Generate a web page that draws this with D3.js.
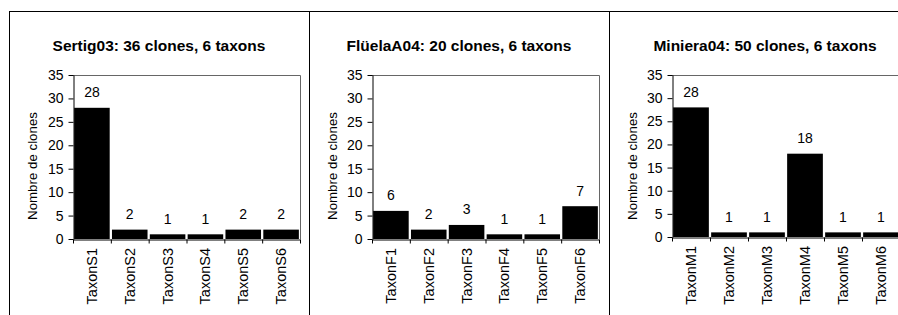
<!DOCTYPE html>
<html>
<head>
<meta charset="utf-8">
<script src="https://cdnjs.cloudflare.com/ajax/libs/d3/7.8.5/d3.min.js"></script>
<style>
  body { margin: 0; background: #fff; }
  svg text { font-family: "Liberation Sans", Arial, sans-serif; fill: #000; }
</style>
</head>
<body>
<script>
// data
const titles = ["Sertig03: 36 clones, 6 taxons", "FlüelaA04: 20 clones, 6 taxons", "Miniera04: 50 clones, 6 taxons"]
const taxaS = ["TaxonS1", "TaxonS2", "TaxonS3", "TaxonS4", "TaxonS5", "TaxonS6"]
const clonesS = [28, 2, 1, 1, 2, 2]
const taxaF = ["TaxonF1", "TaxonF2", "TaxonF3", "TaxonF4", "TaxonF5", "TaxonF6"]
const clonesF = [6, 2, 3, 1, 1, 7]
const taxaM = ["TaxonM1", "TaxonM2", "TaxonM3", "TaxonM4", "TaxonM5", "TaxonM6"]
const clonesM = [28, 1, 1, 18, 1, 1]
const yTicks = [0, 5, 10, 15, 20, 25, 30, 35]
const yLabel = "Nombre de clones"

// layout of each panel (frame + plot area)
const panels = [
    { frame: [9, 309], left: 73, right: 300, top: 75, bottom: 239, cats: taxaS, vals: clonesS },
    { frame: [309, 609], left: 372, right: 599, top: 75, bottom: 239, cats: taxaF, vals: clonesF },
    { frame: [609, 921], left: 672, right: 900, top: 75, bottom: 237, cats: taxaM, vals: clonesM }
];

var W = 898, H = 315;
var svg = d3.select("body").append("svg")
    .attr("width", W)
    .attr("height", H);

// outer frame
svg.append("line")
    .attr("x1", 9).attr("x2", W).attr("y1", 11.5).attr("y2", 11.5)
    .attr("stroke", "#000");
[9, 309, 609].forEach(function (fx) {
    svg.append("line")
        .attr("x1", fx + 0.5).attr("x2", fx + 0.5).attr("y1", 11).attr("y2", H)
        .attr("stroke", "#000");
});

panels.forEach(function (p, i) {
    var g = svg.append("g");

    var x = d3.scaleBand().domain(p.cats).range([p.left, p.right])
        .paddingInner(0.06).paddingOuter(0.03);
    var xEdges = d3.scaleLinear().domain([0, p.cats.length]).range([p.left, p.right]);
    var y = d3.scaleLinear().domain([0, 35]).range([p.bottom, p.top]);

    // title
    g.append("text")
        .attr("x", (p.frame[0] + p.frame[1]) / 2)
        .attr("y", 51)
        .attr("text-anchor", "middle")
        .style("font-size", "15.5px")
        .style("font-weight", "bold")
        .text(titles[i]);

    // plot area box (top & right)
    g.append("path")
        .attr("d", "M" + p.left + "," + (p.top + 0.5) + "H" + (p.right + 0.5) + "V" + p.bottom)
        .attr("fill", "none")
        .attr("stroke", "#666");

    // bars
    g.selectAll("rect.bar")
        .data(p.vals)
        .enter()
        .append("rect")
        .attr("class", "bar")
        .attr("x", function (d, j) { return x(p.cats[j]) })
        .attr("width", x.bandwidth())
        .attr("y", function (d) { return y(d) })
        .attr("height", function (d) { return y(0) - y(d) })
        .attr("fill", "#000");

    // value labels
    g.selectAll("text.val")
        .data(p.vals)
        .enter()
        .append("text")
        .attr("class", "val")
        .attr("x", function (d, j) { return x(p.cats[j]) + x.bandwidth() / 2 })
        .attr("y", function (d) { return y(d) - 10.5 })
        .attr("text-anchor", "middle")
        .style("font-size", "14px")
        .text(function (d) { return d });

    // y axis
    var yAxis = d3.axisLeft(y).tickValues(yTicks).tickSize(5).tickSizeOuter(0).tickPadding(5);
    var ya = g.append("g")
        .attr("transform", "translate(" + (p.left + 0.5) + ",0)")
        .call(yAxis);
    ya.selectAll("text").style("font-size", "14px").attr("font-family", null);
    ya.selectAll("line, path").attr("stroke", "#000");

    // x axis: ticks between categories
    var xe = g.append("g")
        .attr("transform", "translate(0," + (p.bottom + 0.5) + ")")
        .call(d3.axisBottom(xEdges).tickValues(d3.range(p.cats.length + 1)).tickSize(4).tickSizeOuter(0).tickFormat(""));
    xe.selectAll("line, path").attr("stroke", "#000");

    // x axis: rotated category labels
    var xa = g.append("g")
        .attr("transform", "translate(0," + p.bottom + ")")
        .call(d3.axisBottom(x).tickSize(0));
    xa.select(".domain").remove();
    xa.selectAll("text")
        .attr("font-family", null)
        .style("font-size", "14.5px")
        .attr("transform", "rotate(-90)")
        .attr("text-anchor", "end")
        .attr("x", -9)
        .attr("y", 0)
        .attr("dy", "0.35em");

    // y axis label
    g.append("text")
        .attr("transform", "translate(" + (p.frame[0] + 23) + "," + 166 + ") rotate(-90)")
        .attr("text-anchor", "middle")
        .attr("dy", "0.35em")
        .style("font-size", "13.3px")
        .text(yLabel);
});
</script>
</body>
</html>
